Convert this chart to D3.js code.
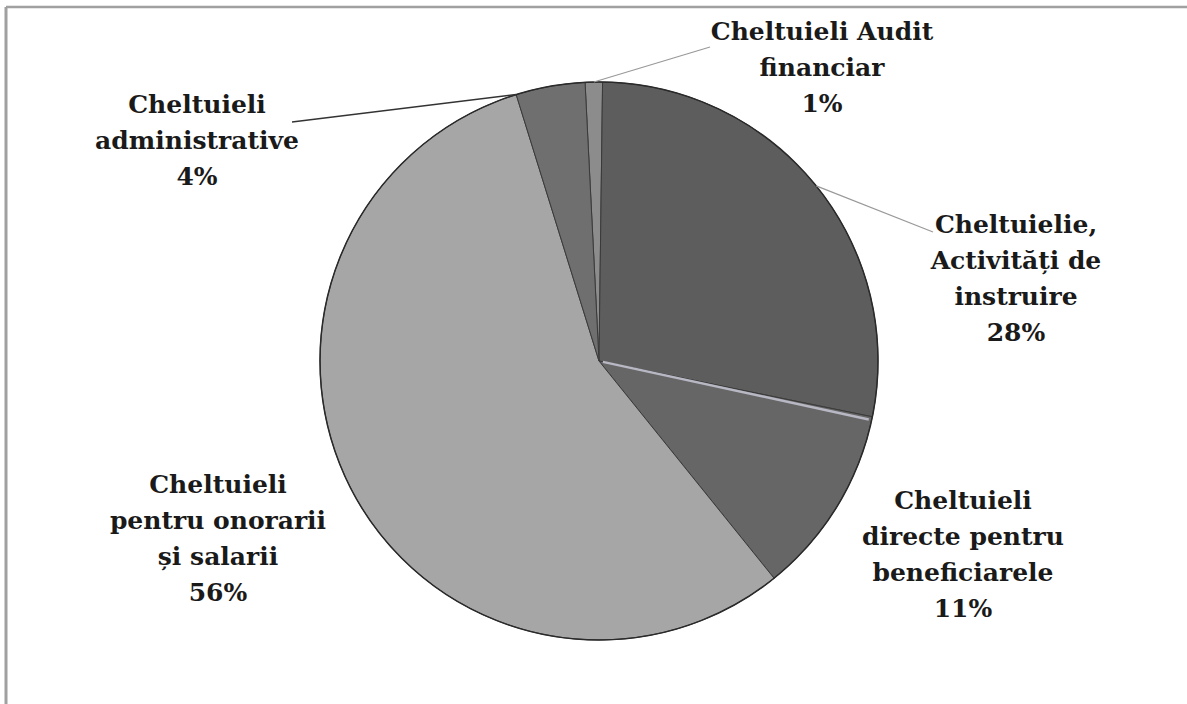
<!DOCTYPE html>
<html>
<head>
<meta charset="utf-8">
<script src="https://cdn.jsdelivr.net/npm/d3@7"></script>
<style>
  body { margin: 0; background: #fff; }
  text { font-family: "DejaVu Serif", serif; font-weight: bold; fill: #1a1a1a; }
</style>
</head>
<body>
<div id="container"></div>
<script>
// slices, clockwise from 12 o'clock
var categories = ["Cheltuieli Audit financiar", "Cheltuielie, Activități de instruire",
    "Cheltuieli directe pentru beneficiarele", "Cheltuieli pentru onorarii și salarii",
    "Cheltuieli administrative"];
var values = [1, 28, 11, 56, 4];
var labelLines = [
    ["Cheltuieli Audit", "financiar", "1%"],
    ["Cheltuielie,", "Activități de", "instruire", "28%"],
    ["Cheltuieli", "directe pentru", "beneficiarele", "11%"],
    ["Cheltuieli", "pentru onorarii", "și salarii", "56%"],
    ["Cheltuieli", "administrative", "4%"]
];
var sliceColors = ["#8c8c8c", "#5d5d5d", "#666666", "#a6a6a6", "#6f6f6f"];

var width = 1187, height = 704;
var cx = 599, cy = 361, radius = 279;

// where each label block sits (x center, first baseline) and its leader line
var labelPos = [[822, 40], [1016, 233], [963, 509], [218, 493], [197, 113]];
var leaderEnd = [[710, 47], [933, 232], null, null, [292, 122]];
var leaderAt = [0.5, 0.5, null, null, 0];   // point on the slice rim (0 = start, 1 = end)

var svg = d3.select("#container")
    .append("svg")
    .attr("width", width)
    .attr("height", height);

// frame of the scanned page
svg.append("line").attr("x1", 6).attr("y1", 7).attr("x2", width).attr("y2", 7)
    .style("stroke", "#a0a0a0").style("stroke-width", 2.5);
svg.append("line").attr("x1", 6).attr("y1", 7).attr("x2", 6).attr("y2", height)
    .style("stroke", "#a0a0a0").style("stroke-width", 3);

var pie = d3.pie().sort(null).value(function (d) { return d; })
    .startAngle(-0.05).endAngle(2 * Math.PI - 0.05);
var arcs = pie(values);
var arc = d3.arc().innerRadius(0).outerRadius(radius);

var g = svg.append("g").attr("transform", "translate(" + cx + "," + cy + ")");

g.selectAll("path.slice")
    .data(arcs)
    .enter()
    .append("path")
    .attr("class", "slice")
    .attr("d", arc)
    .style("fill", function (d, i) { return sliceColors[i]; })
    .style("stroke", "#3a3a3a")
    .style("stroke-width", 1);

// light bevel along the top edge of the "directe" slice
var bev = arcs[2].startAngle + 0.012;
g.append("line")
    .attr("x1", 4 * Math.sin(bev)).attr("y1", -4 * Math.cos(bev))
    .attr("x2", (radius - 3) * Math.sin(bev)).attr("y2", -(radius - 3) * Math.cos(bev))
    .style("stroke", "#b8b8c4").style("stroke-width", 2.5);

// outer rim
g.append("circle").attr("r", radius)
    .style("fill", "none").style("stroke", "#2a2a2a").style("stroke-width", 1.5);

// leader lines
arcs.forEach(function (d, i) {
    if (!leaderEnd[i]) return;
    var a = d.startAngle + (d.endAngle - d.startAngle) * leaderAt[i];
    svg.append("line")
        .attr("x1", cx + radius * Math.sin(a))
        .attr("y1", cy - radius * Math.cos(a))
        .attr("x2", leaderEnd[i][0])
        .attr("y2", leaderEnd[i][1])
        .style("stroke", i == 4 ? "#333" : "#999")
        .style("stroke-width", i == 4 ? 1.5 : 1.2);
});

// labels
labelLines.forEach(function (lines, i) {
    var t = svg.append("text")
        .attr("text-anchor", "middle")
        .style("font-size", "25px");
    lines.forEach(function (s, j) {
        t.append("tspan")
            .attr("x", labelPos[i][0])
            .attr("y", labelPos[i][1] + j * 36)
            .text(s);
    });
});
</script>
</body>
</html>
